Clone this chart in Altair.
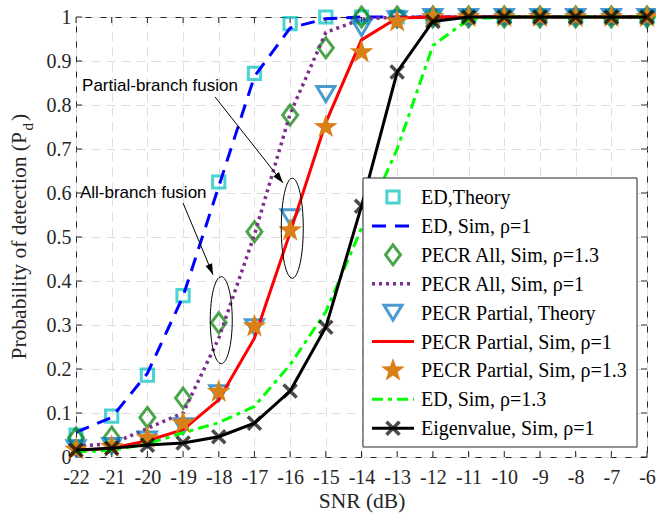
import altair as alt
import pandas as pd

# ---------------- data ----------------
snr = [-22, -21, -20, -19, -18, -17, -16, -15, -14, -13, -12, -11, -10, -9, -8, -7, -6]
y_ticks = [0, 0.1, 0.2, 0.3, 0.4, 0.5, 0.6, 0.7, 0.8, 0.9, 1.0]

ed_theory = [0.050, 0.093, 0.186, 0.367, 0.625, 0.872, 0.985, 1.0, 1.0, 1.0, 1.0, 1.0, 1.0, 1.0, 1.0, 1.0, 1.0]
ed_sim_rho1 = [0.056, 0.090, 0.190, 0.365, 0.615, 0.865, 0.975, 0.996, 1.0, 1.0, 1.0, 1.0, 1.0, 1.0, 1.0, 1.0, 1.0]
pecr_all_rho13 = [0.043, 0.045, 0.090, 0.134, 0.305, 0.512, 0.777, 0.930, 1.0, 1.0, 1.0, 1.0, 1.0, 1.0, 1.0, 1.0, 1.0]
pecr_all_rho1 = [0.025, 0.030, 0.065, 0.100, 0.270, 0.505, 0.780, 0.965, 0.995, 1.0, 1.0, 1.0, 1.0, 1.0, 1.0, 1.0, 1.0]
pecr_partial_theory = [0.020, 0.025, 0.040, 0.070, 0.145, 0.295, 0.545, 0.825, 0.975, 0.995, 1.0, 1.0, 1.0, 1.0, 1.0, 1.0, 1.0]
pecr_partial_rho1 = [0.015, 0.020, 0.037, 0.062, 0.130, 0.270, 0.510, 0.760, 0.948, 0.998, 1.0, 1.0, 1.0, 1.0, 1.0, 1.0, 1.0]
pecr_partial_rho13 = [0.017, 0.023, 0.043, 0.077, 0.148, 0.297, 0.515, 0.750, 0.920, 0.990, 1.0, 1.0, 1.0, 1.0, 1.0, 1.0, 1.0]
ed_sim_rho13 = [0.012, 0.015, 0.030, 0.055, 0.078, 0.115, 0.210, 0.330, 0.520, 0.700, 0.935, 0.995, 1.0, 1.0, 1.0, 1.0, 1.0]
eigen_rho1 = [0.016, 0.020, 0.027, 0.032, 0.046, 0.077, 0.150, 0.295, 0.570, 0.875, 0.990, 1.0, 1.0, 1.0, 1.0, 1.0, 1.0]

legend_labels = [
    "ED,Theory", "ED, Sim, ρ=1", "PECR All, Sim, ρ=1.3", "PECR All, Sim, ρ=1",
    "PECR Partial, Theory", "PECR Partial, Sim, ρ=1", "PECR Partial, Sim, ρ=1.3",
    "ED, Sim, ρ=1.3", "Eigenvalue, Sim, ρ=1",
]
series_values = [ed_theory, ed_sim_rho1, pecr_all_rho13, pecr_all_rho1, pecr_partial_theory,
                 pecr_partial_rho1, pecr_partial_rho13, ed_sim_rho13, eigen_rho1]

# annotations (data coordinates)
annot_text = ["Partial-branch fusion", "All-branch fusion"]
annot_text_x = [-21.83, -21.89]
annot_text_y = [0.843, 0.600]
arrow_x0 = [-18.10, -19.00]
arrow_y0 = [0.818, 0.577]
arrow_x1 = [-16.20, -18.16]
arrow_y1 = [0.623, 0.414]
arrow_angle = [141.7, 157.4]
ellipse_x = [-15.94, -17.93]
ellipse_y = [0.520, 0.311]

# ---------------- styles ----------------
SERIF = "Liberation Serif"
SANS = "Liberation Sans"
AX = "#262626"

def ellipse_path(a):
    k = 0.5523
    return (f"M0,-1C{k*a:.4f},-1 {a:.4f},{-k:.4f} {a:.4f},0"
            f"C{a:.4f},{k:.4f} {k*a:.4f},1 0,1"
            f"C{-k*a:.4f},1 {-a:.4f},{k:.4f} {-a:.4f},0"
            f"C{-a:.4f},{-k:.4f} {-k*a:.4f},-1 0,-1Z")

ellipse_shapes = [(ellipse_path(0.22), 10000), (ellipse_path(0.253), 7569)]

STAR = ("M0,-1L0.235,-0.324L0.951,-0.309L0.380,0.124L0.588,0.809L0,0.4"
        "L-0.588,0.809L-0.380,0.124L-0.951,-0.309L-0.235,-0.324Z")
DIAMOND = "M0,-1L0.75,0L0,1L-0.75,0Z"
TRI_DOWN = "M-1,-0.83L1,-0.83L0,0.83Z"
XMARK = "M-1,-1L1,1M-1,1L1,-1"
ARROWHEAD = "M0,0L0.32,1L-0.32,1Z"

marker_styles = {
    "square": dict(shape="square", size=150, filled=False, color="#00BFBF", strokeWidth=3),
    "diamond": dict(shape=DIAMOND, size=400, filled=False, color="#008000", strokeWidth=3),
    "tri": dict(shape=TRI_DOWN, size=324, filled=False, color="#0072BD", strokeWidth=3),
    "star": dict(shape=STAR, size=620, filled=True, color="#D98019", strokeWidth=1, opacity=1),
    "x": dict(shape=XMARK, size=170, filled=False, color="#000000", strokeWidth=3.5),
}
line_styles = {
    "blue": dict(color="#0000FF", strokeDash=[14, 9], strokeWidth=3),
    "purple": dict(color="#7E2F8E", strokeDash=[3, 4], strokeWidth=3.5),
    "red": dict(color="#FF0000", strokeWidth=3),
    "green": dict(color="#00FF00", strokeDash=[11, 5, 4, 5], strokeWidth=3),
    "black": dict(color="#000000", strokeWidth=3),
}
# (line style, marker style) per series in plotting order
series_style = [
    (None, "square"), ("blue", None), (None, "diamond"), ("purple", None), (None, "tri"),
    ("red", None), (None, "star"), ("green", None), ("black", "x"),
]

# ---------------- scales & axes ----------------
XS = alt.Scale(domain=[-22, -6], nice=False, zero=False)
YS = alt.Scale(domain=[0, 1], nice=False, zero=False)
x_axis = alt.Axis(
    values=snr, title="SNR (dB)",
    labelExpr="datum.value < 0 ? '-' + abs(datum.value) : '' + datum.value",
    labelFont=SERIF, labelFontSize=20, labelColor=AX, labelPadding=10,
    titleFont=SERIF, titleFontSize=21.5, titleFontWeight="normal", titleColor=AX, titlePadding=3,
    ticks=False, domain=False, grid=True, gridDash=[9, 6], gridColor="#dedede", gridWidth=1,
    labelFlush=False,
)
y_axis = alt.Axis(
    values=y_ticks, title=None,
    labelExpr="datum.value == 0 ? '0' : datum.value == 1 ? '1' : format(datum.value, '.1f')",
    labelFont=SERIF, labelFontSize=20, labelColor=AX, labelPadding=5,
    ticks=False, domain=False, grid=True, gridDash=[9, 6], gridColor="#dedede", gridWidth=1,
    labelFlush=False,
)

def X(f):
    return alt.X(f"{f}:Q", scale=XS, axis=x_axis)

def Y(f):
    return alt.Y(f"{f}:Q", scale=YS, axis=y_axis)

one = alt.InlineData(values=[{"k": 0}])
layers = []

# inward ticks on all four sides
tx = pd.DataFrame({"snr": snr})
ty = pd.DataFrame({"v": y_ticks})
tick_kw = dict(color=AX, strokeWidth=1)
layers.append(alt.Chart(tx).mark_rule(**tick_kw).encode(x=X("snr"), y=alt.value(440), y2=alt.value(434)))
layers.append(alt.Chart(tx).mark_rule(**tick_kw).encode(x=X("snr"), y=alt.value(0), y2=alt.value(6)))
layers.append(alt.Chart(ty).mark_rule(**tick_kw).encode(y=Y("v"), x=alt.value(0), x2=alt.value(6)))
layers.append(alt.Chart(ty).mark_rule(**tick_kw).encode(y=Y("v"), x=alt.value(571), x2=alt.value(565)))

# series
for vals, (ls, ms) in zip(series_values, series_style):
    df = pd.DataFrame({"snr": snr, "pd": vals})
    if ls:
        layers.append(alt.Chart(df).mark_line(**line_styles[ls]).encode(x=X("snr"), y=Y("pd")))
    if ms:
        layers.append(alt.Chart(df).mark_point(**marker_styles[ms]).encode(x=X("snr"), y=Y("pd")))

# annotations: ellipses
for i in range(2):
    d = pd.DataFrame({"x": [ellipse_x[i]], "y": [ellipse_y[i]]})
    shp, sz = ellipse_shapes[i]
    layers.append(alt.Chart(d).mark_point(shape=shp, size=sz, filled=False, color="black",
                                          strokeWidth=1, opacity=1).encode(x=X("x"), y=Y("y")))
# arrows
for i in range(2):
    d = pd.DataFrame({"x0": [arrow_x0[i]], "y0": [arrow_y0[i]], "x1": [arrow_x1[i]], "y1": [arrow_y1[i]]})
    layers.append(alt.Chart(d).mark_rule(color="black", strokeWidth=1).encode(
        x=X("x0"), y=Y("y0"), x2="x1:Q", y2="y1:Q"))
    layers.append(alt.Chart(d).mark_point(shape=ARROWHEAD, size=484, filled=True, color="black",
                                          opacity=1, angle=arrow_angle[i]).encode(x=X("x1"), y=Y("y1")))
# annotation text
for i in range(2):
    d = pd.DataFrame({"x": [annot_text_x[i]], "y": [annot_text_y[i]], "t": [annot_text[i]]})
    layers.append(alt.Chart(d).mark_text(font=SANS, fontSize=17, align="left", baseline="middle",
                                         color="black").encode(x=X("x"), y=Y("y"), text="t:N"))

# y-axis title with subscript
ytitle_kw = dict(font=SERIF, color=AX, angle=270, baseline="alphabetic")
layers.append(alt.Chart(one).mark_text(fontSize=21.5, align="right", **ytitle_kw).encode(
    x=alt.value(-50), y=alt.value(115), text=alt.value("Probability of detection (P")))
layers.append(alt.Chart(one).mark_text(fontSize=15, align="left", **ytitle_kw).encode(
    x=alt.value(-43), y=alt.value(113.5), text=alt.value("d")))
layers.append(alt.Chart(one).mark_text(fontSize=21.5, align="left", **ytitle_kw).encode(
    x=alt.value(-50), y=alt.value(104), text=alt.value(")")))

# legend
layers.append(alt.Chart(one).mark_rect(fill="white", stroke="#262626", strokeWidth=1).encode(
    x=alt.value(287), x2=alt.value(561), y=alt.value(161), y2=alt.value(430)))
for i, (lab, (ls, ms)) in enumerate(zip(legend_labels, series_style)):
    yy = 180 + 28.9 * i
    if ls:
        layers.append(alt.Chart(one).mark_rule(**line_styles[ls]).encode(
            x=alt.value(296), x2=alt.value(338), y=alt.value(yy)))
    if ms:
        layers.append(alt.Chart(one).mark_point(**marker_styles[ms]).encode(
            x=alt.value(317), y=alt.value(yy)))
    layers.append(alt.Chart(one).mark_text(font=SERIF, fontSize=20, align="left", baseline="middle",
                                           color="black").encode(
        x=alt.value(345), y=alt.value(yy + 1), text=alt.value(lab)))

chart = alt.layer(*layers).properties(
    width=571, height=440,
    autosize=alt.AutoSizeParams(type="none"),
    padding={"left": 76, "top": 17, "right": 9, "bottom": 59},
    background="white",
).configure_view(stroke="#262626", strokeWidth=1)

chart.save("out.html", embed_options={"renderer": "svg", "actions": False})
